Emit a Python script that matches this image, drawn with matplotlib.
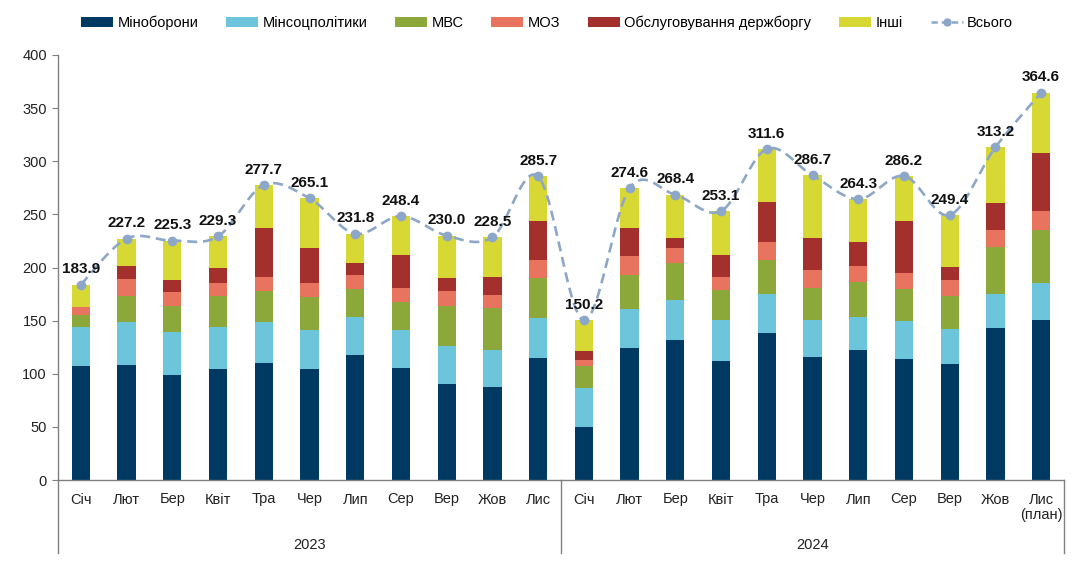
import numpy as np
import matplotlib
matplotlib.use("Agg")
import matplotlib.pyplot as plt
from matplotlib.patches import Patch
from matplotlib.lines import Line2D
import matplotlib.transforms as mtrans

months = ["Січ", "Лют", "Бер", "Квіт", "Тра", "Чер", "Лип", "Сер", "Вер", "Жов", "Лис",
          "Січ", "Лют", "Бер", "Квіт", "Тра", "Чер", "Лип", "Сер", "Вер", "Жов", "Лис\n(план)"]
years = ["2023", "2024"]

mil = [107.7, 108.6, 98.6, 104.9, 109.9, 104.9, 118.0, 105.8, 90.8, 87.6, 114.9,
       49.5, 123.9, 132.1, 112.0, 138.3, 115.8, 122.1, 113.9, 109.6, 143.0, 150.2]
soc = [36.3, 40.4, 40.4, 39.1, 39.1, 35.9, 35.1, 35.0, 35.3, 35.1, 37.2,
       36.9, 37.3, 37.2, 38.2, 36.3, 34.4, 31.0, 35.4, 32.5, 32.3, 35.4]
mvs = [11.2, 24.1, 24.4, 29.1, 29.1, 31.7, 26.2, 26.3, 37.3, 39.5, 37.6,
       21.0, 31.6, 35.4, 28.2, 32.9, 30.7, 33.5, 30.3, 31.0, 44.4, 50.1]
moz = [7.2, 16.3, 13.1, 12.5, 13.2, 13.1, 13.2, 13.5, 14.1, 12.2, 17.2,
       5.6, 17.8, 14.1, 12.5, 16.6, 16.9, 15.0, 15.1, 14.7, 15.3, 17.8]
debt = [0.0, 12.2, 11.9, 13.8, 45.6, 33.2, 11.3, 31.3, 12.2, 16.2, 37.2,
        8.8, 26.3, 9.1, 21.0, 37.2, 30.1, 22.2, 49.4, 12.5, 26.0, 54.5]
other = [21.5, 25.6, 36.9, 29.9, 40.8, 46.3, 28.0, 36.5, 40.3, 37.9, 41.6,
         28.4, 37.7, 40.5, 41.2, 50.3, 58.8, 40.5, 42.1, 49.1, 52.2, 56.6]
total = [183.9, 227.2, 225.3, 229.3, 277.7, 265.1, 231.8, 248.4, 230.0, 228.5, 285.7,
         150.2, 274.6, 268.4, 253.1, 311.6, 286.7, 264.3, 286.2, 249.4, 313.2, 364.6]

series = [("Міноборони", mil, "#003A63"),
          ("Мінсоцполітики", soc, "#6CC5DA"),
          ("МВС", mvs, "#8DA83A"),
          ("МОЗ", moz, "#E8735F"),
          ("Обслуговування держборгу", debt, "#A3302D"),
          ("Інші", other, "#D8D834")]
line_color = "#8CA7C8"

narrow = ["Liberation Sans Narrow", "Liberation Sans", "DejaVu Sans"]
regular = ["Liberation Sans", "DejaVu Sans"]

fig = plt.figure(figsize=(10.75, 5.71), dpi=100)
ax = fig.add_axes([58 / 1075, 1 - 480 / 571, (1064 - 58) / 1075, (480 - 55) / 571])

x = np.arange(len(months))
bottom = np.zeros(len(months))
for name, vals, col in series:
    v = np.array(vals)
    ax.bar(x, v, width=0.4, bottom=bottom, color=col, zorder=2)
    bottom += v

# smooth (Catmull-Rom) line through totals, computed in pixel-like space
tx = x.astype(float) * 45.7
ty = np.array(total) * 1.0625
P = np.column_stack([tx, ty])
Pp = np.vstack([P[0], P, P[-1]])
curve = []
for i in range(len(P) - 1):
    p0, p1, p2, p3 = Pp[i], Pp[i + 1], Pp[i + 2], Pp[i + 3]
    t = np.linspace(0, 1, 25)[:, None]
    c = 0.5 * ((2 * p1) + (-p0 + p2) * t + (2 * p0 - 5 * p1 + 4 * p2 - p3) * t ** 2
               + (-p0 + 3 * p1 - 3 * p2 + p3) * t ** 3)
    curve.append(c if i == 0 else c[1:])
curve = np.vstack(curve)
ax.plot(curve[:, 0] / 45.7, curve[:, 1] / 1.0625, color=line_color, lw=1.9,
        ls=(0, (3.8, 2.2)), zorder=3)
ax.plot(x, total, ls="none", marker="o", ms=6, color=line_color, zorder=4)

for xi, tv in zip(x, total):
    ax.annotate(f"{tv:.1f}", (xi, tv), xytext=(0, 6), textcoords="offset points",
                ha="center", va="bottom", fontsize=11, fontweight="bold",
                family=regular, color="#111111", zorder=5)

ax.set_xlim(-0.5, len(months) - 0.5)
ax.set_ylim(0, 400)
ax.set_yticks(np.arange(0, 401, 50))
ax.tick_params(axis="y", direction="out", length=4, color="#808080", labelsize=10.5,
               labelcolor="#222222", pad=4)
for lab in ax.get_yticklabels():
    lab.set_family(regular)
ax.set_xticks(x)
ax.set_xticklabels(months, family=narrow, fontsize=10.5, color="#222222",
                   linespacing=1.1, va="top")
ax.tick_params(axis="x", length=0, pad=9)

for s in ["top", "right"]:
    ax.spines[s].set_visible(False)
for s in ["left", "bottom"]:
    ax.spines[s].set_color("#808080")
    ax.spines[s].set_linewidth(1.0)

# group separators and year labels
trans = mtrans.blended_transform_factory(ax.transData, ax.transAxes)
ybot = -(553 - 480) / 425
for xs in [-0.5, 10.5, len(months) - 0.5]:
    ax.plot([xs, xs], [0, ybot], transform=trans, color="#808080", lw=1.0, clip_on=False)
ax.text(5, -(545 - 480) / 425, years[0], transform=trans, ha="center", va="center",
        family=narrow, fontsize=10.5, color="#222222")
ax.text(16, -(545 - 480) / 425, years[1], transform=trans, ha="center", va="center",
        family=narrow, fontsize=10.5, color="#222222")

handles = [Patch(facecolor=col, edgecolor="none", label=name) for name, _, col in series]
handles.append(Line2D([0], [0], color=line_color, lw=1.8, ls=(0, (2.5, 1.6)),
                      marker="o", ms=5, label="Всього"))
fig.legend(handles=handles, loc="center", bbox_to_anchor=(547 / 1075, 1 - 23 / 571),
           ncol=7, frameon=False, prop={"family": narrow, "size": 10.5},
           handlelength=2.2, handleheight=0.6, handletextpad=0.3, columnspacing=1.9)

fig.savefig("out.png", dpi=100)
